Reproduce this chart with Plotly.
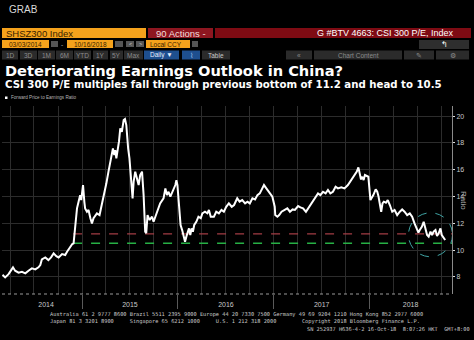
import plotly.graph_objects as go

# ---------------- data ----------------
dates = [
    "2014-03-03", "2014-03-13", "2014-03-26", "2014-04-12", "2014-04-20", "2014-05-03",
    "2014-05-16", "2014-05-29", "2014-06-10", "2014-06-23", "2014-07-06", "2014-07-18",
    "2014-07-25", "2014-07-31", "2014-08-13", "2014-08-25", "2014-09-04", "2014-09-14",
    "2014-09-24", "2014-10-03", "2014-10-16", "2014-10-28", "2014-11-04", "2014-11-12",
    "2014-11-19", "2014-11-24", "2014-11-29", "2014-12-05", "2014-12-12", "2014-12-18",
    "2014-12-24", "2014-12-28", "2015-01-04", "2015-01-09", "2015-01-12", "2015-01-19",
    "2015-01-25", "2015-02-01", "2015-02-07", "2015-02-13", "2015-02-20", "2015-02-26",
    "2015-03-08", "2015-03-17", "2015-03-23", "2015-04-03", "2015-04-11", "2015-04-18",
    "2015-04-24", "2015-04-28", "2015-05-03", "2015-05-07", "2015-05-11", "2015-05-16",
    "2015-05-21", "2015-05-26", "2015-06-01", "2015-06-08", "2015-06-13", "2015-06-18",
    "2015-06-20", "2015-06-25", "2015-06-30", "2015-07-03", "2015-07-08", "2015-07-12",
    "2015-07-16", "2015-07-22", "2015-07-29", "2015-08-04", "2015-08-10", "2015-08-17",
    "2015-08-23", "2015-08-29", "2015-09-02", "2015-09-07", "2015-09-15", "2015-09-24",
    "2015-09-30", "2015-10-13", "2015-10-25", "2015-11-07", "2015-11-14", "2015-11-20",
    "2015-11-26", "2015-12-03", "2015-12-09", "2015-12-15", "2015-12-22", "2015-12-26",
    "2015-12-30", "2016-01-04", "2016-01-07", "2016-01-11", "2016-01-17", "2016-01-24",
    "2016-01-28", "2016-02-02", "2016-02-07", "2016-02-12", "2016-02-17", "2016-02-22",
    "2016-02-27", "2016-03-03", "2016-03-11", "2016-03-19", "2016-03-28", "2016-04-03",
    "2016-04-13", "2016-04-22", "2016-04-28", "2016-05-05", "2016-05-17", "2016-05-26",
    "2016-06-05", "2016-06-15", "2016-06-24", "2016-07-03", "2016-07-13", "2016-07-24",
    "2016-08-02", "2016-08-08", "2016-08-14", "2016-08-23", "2016-09-02", "2016-09-13",
    "2016-09-22", "2016-10-01", "2016-10-11", "2016-10-21", "2016-10-30", "2016-11-08",
    "2016-11-16", "2016-11-24", "2016-12-03", "2016-12-11", "2016-12-20", "2016-12-26",
    "2017-01-04", "2017-01-06", "2017-01-14", "2017-01-21", "2017-01-30", "2017-02-12",
    "2017-02-21", "2017-03-03", "2017-03-13", "2017-03-22", "2017-04-03", "2017-04-12",
    "2017-04-22", "2017-05-03", "2017-05-11", "2017-05-20", "2017-05-30", "2017-06-08",
    "2017-06-18", "2017-06-27", "2017-07-07", "2017-07-17", "2017-07-26", "2017-08-04",
    "2017-08-14", "2017-08-24", "2017-09-02", "2017-09-15", "2017-09-27", "2017-10-10",
    "2017-10-19", "2017-10-29", "2017-11-07", "2017-11-13", "2017-11-19", "2017-11-24",
    "2017-11-29", "2017-12-04", "2017-12-09", "2017-12-14", "2017-12-22", "2017-12-27",
    "2018-01-04", "2018-01-15", "2018-01-24", "2018-01-30", "2018-02-04", "2018-02-09",
    "2018-02-14", "2018-02-19", "2018-02-24", "2018-03-04", "2018-03-11", "2018-03-19",
    "2018-03-28", "2018-04-06", "2018-04-16", "2018-04-26", "2018-05-05", "2018-05-14",
    "2018-05-24", "2018-06-03", "2018-06-12", "2018-06-21", "2018-06-28", "2018-07-06",
    "2018-07-11", "2018-07-19", "2018-07-26", "2018-08-03", "2018-08-08", "2018-08-14",
    "2018-08-21", "2018-08-27", "2018-09-02", "2018-09-09", "2018-09-15", "2018-09-21",
    "2018-09-28", "2018-10-03", "2018-10-08", "2018-10-16",
]
forward_pe = [
    8.15, 7.96, 8.20, 8.71, 8.46, 8.31,
    8.38, 8.26, 8.46, 8.63, 8.56, 8.71,
    8.88, 9.30, 9.45, 9.25, 9.45, 9.75,
    9.55, 9.45, 9.70, 9.63, 9.88, 10.12,
    10.25, 10.45, 10.50, 11.62, 13.11, 13.60,
    14.10, 13.73, 14.85, 13.60, 13.11, 12.86,
    12.99, 12.37, 11.99, 12.37, 12.61, 12.74,
    12.61, 13.36, 14.10, 14.98, 15.85, 16.59,
    17.34, 17.59, 17.09, 17.46, 16.84, 17.34,
    18.09, 19.08, 18.83, 19.70, 19.78, 19.33,
    18.58, 17.59, 16.84, 15.85, 14.85, 13.86,
    15.10, 15.85, 15.35, 14.85, 15.60, 15.85,
    14.10, 11.37, 11.25, 12.61, 12.24, 12.49,
    12.11, 12.86, 13.48, 13.86, 14.60, 14.10,
    14.35, 13.98, 14.23, 14.48, 14.85, 15.22,
    14.85, 13.60, 12.49, 11.87, 11.49, 11.00,
    10.62, 11.00, 11.37, 11.62, 11.12, 11.62,
    11.37, 11.87, 12.11, 12.49, 12.37, 12.74,
    12.86, 12.74, 12.99, 12.49, 12.49, 12.86,
    12.74, 12.99, 12.86, 13.23, 13.48, 13.23,
    13.36, 13.61, 13.86, 13.61, 13.73, 13.48,
    13.61, 13.48, 13.86, 13.78, 14.10, 14.23,
    14.60, 14.85, 14.60, 14.35, 14.10, 13.98,
    13.23, 12.61, 12.49, 12.61, 12.86, 12.99,
    13.11, 12.86, 13.03, 12.99, 13.28, 13.18,
    13.11, 12.86, 13.11, 13.36, 13.73, 13.98,
    14.23, 14.10, 14.35, 14.23, 14.48, 14.23,
    14.35, 14.73, 14.60, 14.68, 14.60, 14.85,
    15.10, 15.35, 15.60, 15.85, 16.17, 15.60,
    15.27, 15.47, 15.22, 15.60, 15.52, 15.47,
    13.73, 14.10, 14.53, 14.35, 13.98, 13.36,
    12.86, 13.48, 13.61, 13.53, 13.73, 13.36,
    12.86, 12.99, 12.61, 12.86, 13.03, 12.86,
    12.61, 12.74, 12.49, 11.99, 11.62, 11.30,
    11.49, 11.74, 12.11, 11.49, 11.12, 11.00,
    11.37, 11.12, 11.37, 11.49, 11.05, 11.24,
    11.62, 11.12, 10.95, 10.75,
]

previous_bottom = 11.2
target_level = 10.5
level_start = "2014-11-27"

x_range = ["2014-03-01", "2018-11-11"]
y_range = [6.72, 20.75]
y_ticks = [8, 10, 12, 14, 16, 18, 20]
year_bounds = ["2015-01-01", "2016-01-01", "2017-01-01", "2018-01-01"]
year_label_pos = ["2014-08-16", "2015-07-02", "2016-07-02", "2017-07-02", "2018-06-06"]
year_labels = ["2014", "2015", "2016", "2017", "2018"]

circle_x = ["2018-05-29", "2018-11-13"]
circle_y = [9.5, 12.78]

# ---------------- layout helpers ----------------
W, H = 474, 340
PL, PR, PT, PB = 2, 452, 106, 294


def px(x):
    return (x - PL) / (PR - PL)


def py(y):
    return (PB - y) / (PB - PT)


shapes = []
annotations = []


def box(x0, x1, y0, y1, color):
    shapes.append(dict(type="rect", xref="paper", yref="paper",
                       x0=px(x0), x1=px(x1), y0=py(y1), y1=py(y0),
                       fillcolor=color, line=dict(width=0), layer="above"))


def text(x, y, s, size, color, anchor="left", family="Liberation Sans, Arial", bold=False, angle=0):
    if bold:
        s = "<b>" + s + "</b>"
    annotations.append(dict(xref="paper", yref="paper", x=px(x), y=py(y), text=s,
                            showarrow=False, xanchor=anchor, yanchor="middle",
                            textangle=angle,
                            font=dict(size=size, color=color, family=family)))


ORANGE = "#f5a21c"
DARK_ON_ORANGE = "#3a2200"
BTN = "#2b2b2b"
BTN_TXT = "#8c8c8c"

# header
text(7, 10, "GRAB", 10, "#d9d9d9")
box(2, 146, 28, 38, ORANGE)
text(4, 33.2, "SHSZ300 Index", 9.5, DARK_ON_ORANGE)
box(148, 213, 28, 38, "#8e1620")
text(180.5, 33, "90 Actions -", 9.5, "#f2dede", anchor="center")
box(215, 471, 28, 38, "#7e0b13")
text(456, 33.2, "G #BTV 4663: CSI 300 P/E, Index", 9, "#ffffff", anchor="right")

box(2, 49, 40, 48, ORANGE)
text(25.5, 44.2, "03/03/2014", 6.5, DARK_ON_ORANGE, anchor="center")
box(51, 58, 41, 47, "#555555")
text(62, 44, "-", 6.5, "#aaaaaa", anchor="center")
box(67, 113, 40, 48, ORANGE)
text(90, 44.2, "10/16/2018", 6.5, DARK_ON_ORANGE, anchor="center")
box(115, 123, 41, 47, "#555555")
box(126, 134, 41, 47, "#555555")
text(130, 44, "&lt;", 5.5, "#cccccc", anchor="center")
box(136, 144, 41, 47, "#555555")
text(140, 44, "&gt;", 5.5, "#cccccc", anchor="center")
box(146, 190, 40, 48, ORANGE)
text(148, 44.2, "Local CCY", 6.5, DARK_ON_ORANGE)
box(192, 198, 41, 47, "#555555")
box(419, 469, 40, 49, "#2e2e2e")
text(444, 44.5, "↰", 8, "#ffffff", anchor="center")

row3 = [(2, 18, "1D"), (20, 37, "3D"), (38, 55, "1M"), (56, 73, "6M"), (74, 91, "YTD"),
        (93, 108, "1Y"), (110, 123, "5Y"), (124, 143, "Max"), (202, 230, "Table"),
        (286, 312, "«"), (314, 402, "Chart Content"), (404, 434, "✎"), (436, 469, "⚙")]
for x0, x1, lab in row3:
    box(x0, x1, 50.5, 59.5, BTN)
    text((x0 + x1) / 2, 55.2, lab, 6.5, "#c8c8c8" if lab == "Table" else BTN_TXT, anchor="center")
box(144, 179, 50.5, 59.5, "#1e4f8f")
text(161.5, 55.2, "Daily ▼", 6.5, "#e6eefa", anchor="center")
box(182, 200, 50.5, 59.5, "#1e4f8f")
text(191, 55.2, "⌇", 6.5, "#9fc0ea", anchor="center")

# titles
text(3, 70.5, "Deteriorating Earnings Outlook in China?", 14.6, "#ffffff",
     family="DejaVu Sans", bold=True)
text(3, 84.5, "CSI 300 P/E multiples fall through previous bottom of 11.2 and head to 10.5",
     10.2, "#ffffff", family="DejaVu Sans", bold=True)
box(5, 7.5, 96.5, 99, "#ffffff")
text(9, 98, "Forward Price to Earnings Ratio", 4.6, "#b5b5b5")

# y-axis title
text(464, 200, "Ratio", 8, "#a8a8a8", anchor="center", angle=90)

# footer
MONO = "DejaVu Sans Mono, Liberation Mono"
text(48, 314.5, "Australia 61 2 9777 8600 Brazil 5511 2395 9000 Europe 44 20 7330 7500 Germany 49 69 9204 1210 Hong Kong 852 2977 6000",
     5.3, "#c8c8c8", family=MONO)
text(48, 321.5, "Japan 81 3 3201 8900     Singapore 65 6212 1000     U.S. 1 212 318 2000        Copyright 2018 Bloomberg Finance L.P.",
     5.3, "#c8c8c8", family=MONO)
text(305, 328.5, "SN 252937 H636-4-2 16-Oct-18  8:07:26 HKT  GMT+8:00",
     5.3, "#c8c8c8", family=MONO)

# dotted bottom axis line
shapes.append(dict(type="line", xref="paper", yref="paper", x0=0, x1=1, y0=0, y1=0,
                   line=dict(color="#9a9a9a", width=1, dash="dot"), layer="above"))
# circle highlighting the latest drop
shapes.append(dict(type="circle", xref="x", yref="y",
                   x0=circle_x[0], x1=circle_x[1], y0=circle_y[0], y1=circle_y[1],
                   line=dict(color="#3fa3a3", width=1, dash="dash")))

# ---------------- traces ----------------
fig = go.Figure()
fig.add_trace(go.Scatter(x=[level_start, x_range[1]], y=[previous_bottom, previous_bottom],
                         mode="lines", line=dict(color="#a23c44", width=1.3, dash="dash"),
                         hoverinfo="skip", showlegend=False))
fig.add_trace(go.Scatter(x=[level_start, x_range[1]], y=[target_level, target_level],
                         mode="lines", line=dict(color="#27b045", width=1.5, dash="dash"),
                         hoverinfo="skip", showlegend=False))
fig.add_trace(go.Scatter(x=dates, y=forward_pe, mode="lines",
                         line=dict(color="#ffffff", width=2),
                         name="Forward Price to Earnings Ratio", showlegend=False))
# carrier for the year label axis
fig.add_trace(go.Scatter(x=dates, y=forward_pe, mode="lines", xaxis="x2",
                         line=dict(color="rgba(0,0,0,0)", width=0),
                         hoverinfo="skip", showlegend=False))

GRID = "#2c2c2c"
fig.update_layout(
    width=W, height=H,
    margin=dict(l=PL, r=W - PR, t=PT, b=H - PB, pad=0),
    paper_bgcolor="#000000", plot_bgcolor="#000000",
    showlegend=False,
    xaxis=dict(type="date", range=x_range, showgrid=True, gridcolor=GRID, gridwidth=1,
               tickmode="array", tickvals=year_bounds, showticklabels=False,
               ticks="outside", ticklen=14, tickcolor="#5a5a5a", tickwidth=1,
               minor=dict(dtick="M3", tick0="2014-01-01", showgrid=True,
                          gridcolor=GRID, gridwidth=1, ticks=""),
               zeroline=False, showline=False, fixedrange=True),
    xaxis2=dict(type="date", range=x_range, overlaying="x", anchor="y", side="bottom",
                tickmode="array", tickvals=year_label_pos, ticktext=year_labels,
                ticks="outside", ticklen=4, tickcolor="rgba(0,0,0,0)",
                tickfont=dict(size=7, color="#c8c8c8", family="Liberation Sans, Arial"),
                showgrid=False, zeroline=False, showline=False),
    yaxis=dict(range=y_range, side="right", tickmode="array", tickvals=y_ticks,
               showgrid=True, gridcolor=GRID, gridwidth=1,
               ticks="outside", ticklen=2, tickcolor="#dddddd", tickwidth=1,
               tickfont=dict(size=7, color="#c8c8c8", family="Liberation Sans, Arial"),
               showline=True, linecolor="#8a8a8a", linewidth=1,
               zeroline=False, fixedrange=True),
    shapes=shapes,
    annotations=annotations,
)

fig.write_html("out.html", config={"displayModeBar": False})
